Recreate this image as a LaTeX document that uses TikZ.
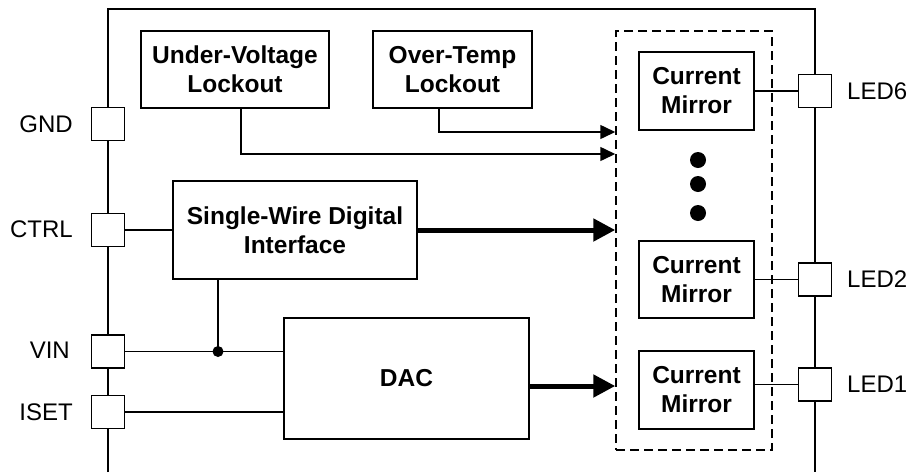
\documentclass[tikz,border=0pt]{standalone}
\usepackage{fontspec}
\setmainfont{Liberation Sans}
\usetikzlibrary{arrows.meta}
\begin{document}
\begin{tikzpicture}[x=1pt,y=-1pt,
  blk/.style={draw,line width=1.6pt,fill=white,align=center,font=\bfseries\fontsize{24.5}{29}\selectfont,inner sep=0pt},
  pin/.style={draw,line width=1.4pt,fill=white,minimum size=33pt,inner sep=0pt},
  lbl/.style={font=\fontsize{24}{29}\selectfont,inner sep=0pt},
  wire/.style={line width=1.5pt},
  sigarrow/.style={wire,-{Triangle[length=15pt,width=14pt]}},
  bus/.style={line width=5pt,-{Triangle[length=22pt,width=22pt]}},
  grpbox/.style={draw,dashed,dash pattern=on 9pt off 5pt,line width=1.5pt,inner sep=0pt}
]
\useasboundingbox (0,0) rectangle (912,472);

% outer frame
\draw[line width=1.6pt] (108,472) -- (108,9) -- (815,9) -- (815,472);

% group of current mirrors
\node[grpbox,minimum width=156pt,minimum height=419pt] (grp) at (694,240.5) {};

% blocks
\node[blk,minimum width=188pt,minimum height=77pt] (uvlo) at (235,69.5) {Under-Voltage\\Lockout};
\node[blk,minimum width=159pt,minimum height=77pt] (otl) at (452.5,69.5) {Over-Temp\\Lockout};
\node[blk,minimum width=244pt,minimum height=98pt] (swdi) at (295,230) {Single-Wire Digital\\Interface};
\node[blk,minimum width=245pt,minimum height=121pt] (dac) at (406.5,378.5) {DAC};
\node[blk,minimum width=115pt,minimum height=78pt] (cm6) at (696.5,91) {Current\\Mirror};
\node[blk,minimum width=115pt,minimum height=77pt] (cm2) at (696.5,279.5) {Current\\Mirror};
\node[blk,minimum width=115pt,minimum height=78pt] (cm1) at (696.5,390) {Current\\Mirror};

% pins
\node[pin] (gnd) at (108,124) {};
\node[pin] (ctrl) at (108,230) {};
\node[pin] (vin) at (108,351.5) {};
\node[pin] (iset) at (108,412) {};
\node[pin] (led6) at (815,91) {};
\node[pin] (led2) at (815,279.5) {};
\node[pin] (led1) at (815,384.5) {};

% pin labels
\node[lbl,anchor=east] (gndl) at (73,124) {GND};
\node[lbl,anchor=east] (ctrll) at (73,229) {CTRL};
\node[lbl,anchor=east] (vinl) at (70,350) {VIN};
\node[lbl,anchor=east] (isetl) at (73,412) {ISET};
\node[lbl,anchor=west] (led6l) at (847,91) {LED6};
\node[lbl,anchor=west] (led2l) at (847,279.5) {LED2};
\node[lbl,anchor=west] (led1l) at (847,384.5) {LED1};

% lockout signals
\coordinate (otlout) at (439,132);
\coordinate (uvout) at (241,154);
\draw[sigarrow] (otl.south -| otlout) -- (otlout) -- (otlout -| grp.west);
\draw[sigarrow] (uvlo.south -| uvout) -- (uvout) -- (uvout -| grp.west);

% buses
\draw[bus] (swdi.east) -- (swdi.east -| grp.west);
\coordinate (dacout) at (529,386);
\draw[bus] (dac.east |- dacout) -- (dacout -| grp.west);

% input wires
\draw[wire] (ctrl.east) -- (swdi.west);
\coordinate (j) at (218,351.5);
\draw[wire] (vin.east) -- (vin.east -| dac.west);
\draw[wire] (swdi.south -| j) -- (j);
\fill (j) circle (5.5pt);
\draw[wire] (iset.east) -- (iset.east -| dac.west);

% output wires
\draw[wire] (cm6.east) -- (led6.west);
\draw[wire] (cm2.east) -- (led2.west);
\draw[wire] (led1.west) -- (led1.west -| cm1.east);

% ellipsis dots
\fill (698,160) circle (8pt);
\fill (698,184) circle (8pt);
\fill (698,213) circle (8pt);
\end{tikzpicture}
\end{document}
